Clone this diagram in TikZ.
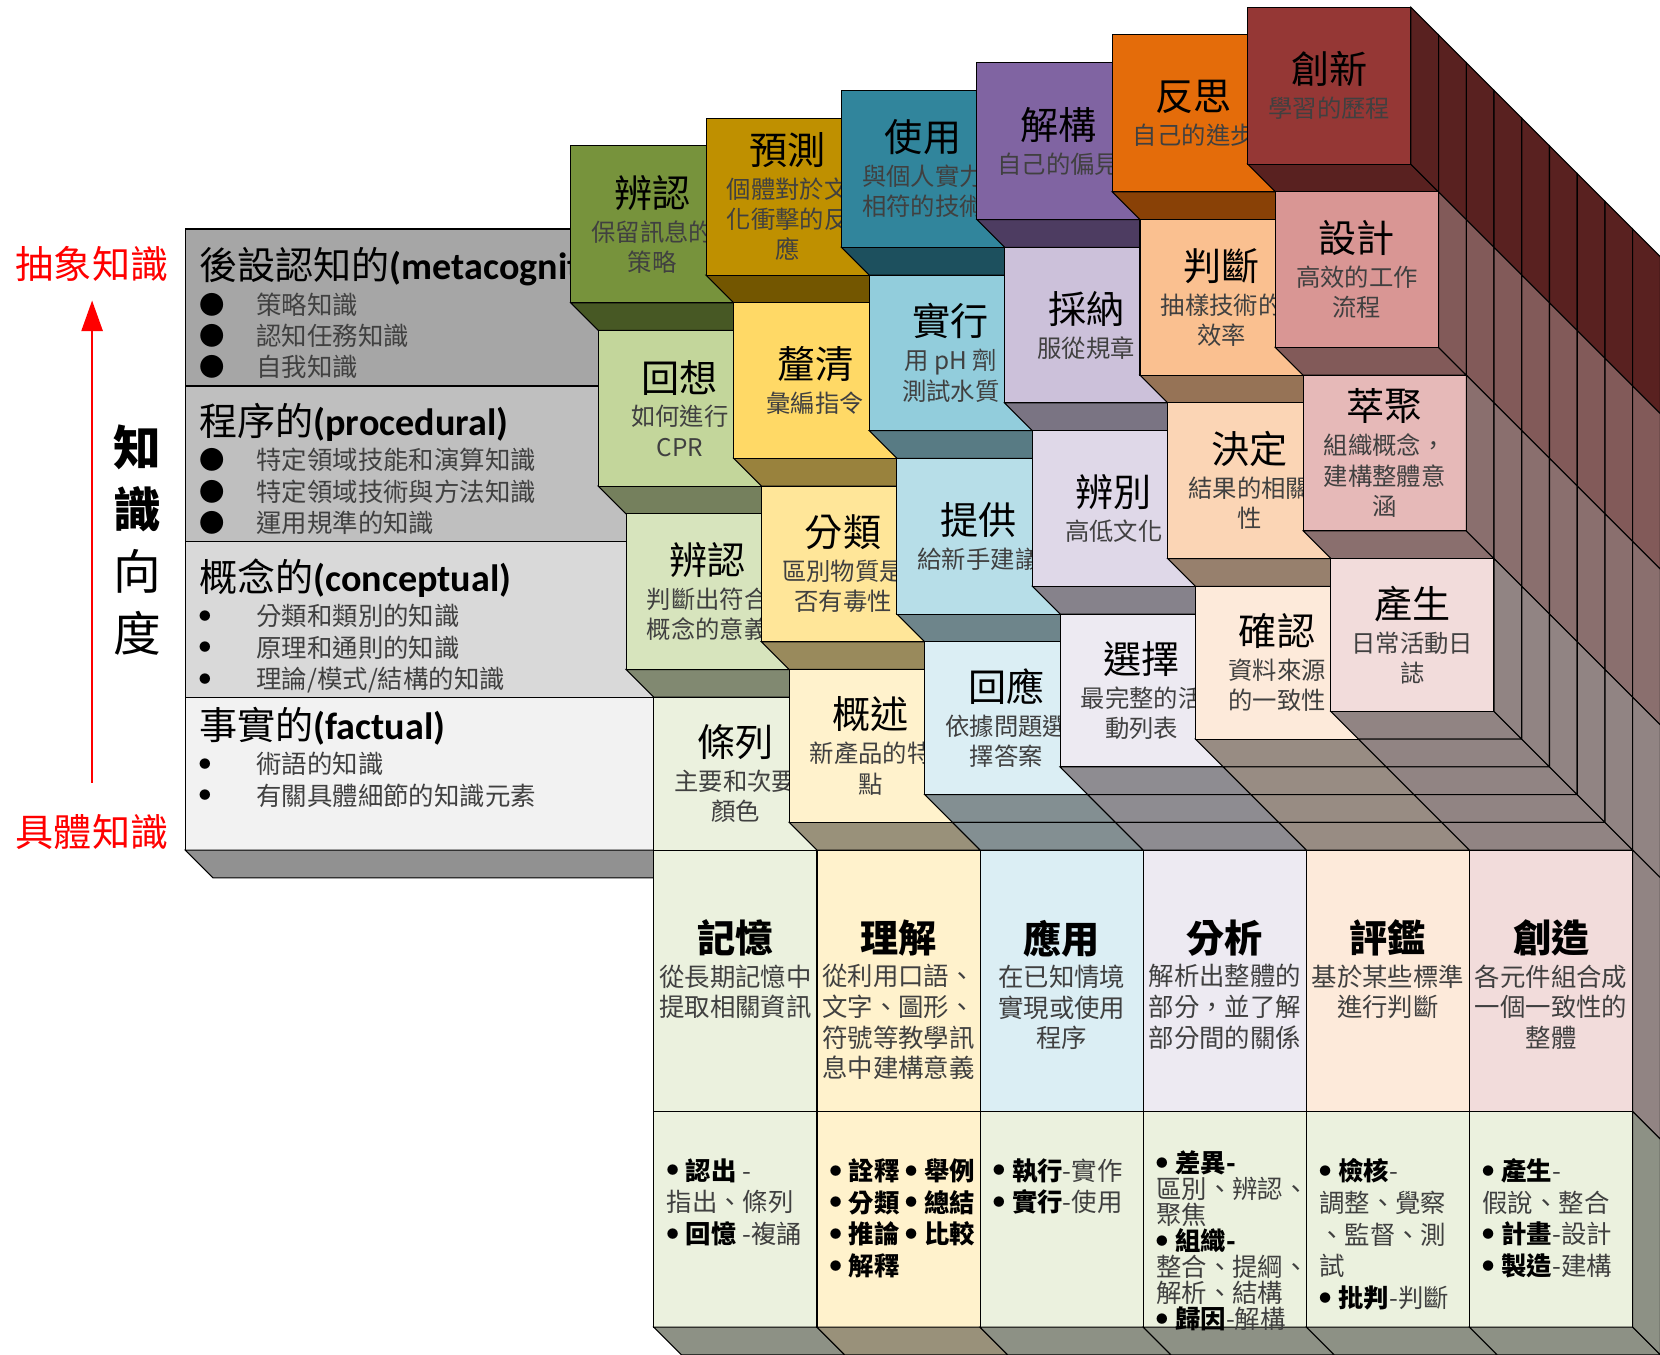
\documentclass[tikz,border=0pt]{standalone}
\usepackage{fontspec}
\setmainfont{Noto Sans CJK TC}
\newfontfamily\calibrish{Carlito}
\usetikzlibrary{arrows.meta}

% colours of the six columns (A metacognitive ... D factual, E/F front block)
\definecolor{remA}{HTML}{77933C}\definecolor{remB}{HTML}{C3D69B}\definecolor{remC}{HTML}{D7E4BD}\definecolor{remD}{HTML}{EBF1DE}
\definecolor{undA}{HTML}{BF9000}\definecolor{undB}{HTML}{FFD966}\definecolor{undC}{HTML}{FFE699}\definecolor{undD}{HTML}{FFF2CC}
\definecolor{appA}{HTML}{31859C}\definecolor{appB}{HTML}{92CDDC}\definecolor{appC}{HTML}{B7DEE8}\definecolor{appD}{HTML}{DBEEF4}
\definecolor{anaA}{HTML}{8064A2}\definecolor{anaB}{HTML}{CCC1DA}\definecolor{anaC}{HTML}{DFD8E8}\definecolor{anaD}{HTML}{EDEAF2}
\definecolor{evaA}{HTML}{E46C0A}\definecolor{evaB}{HTML}{FAC090}\definecolor{evaC}{HTML}{FBD5B5}\definecolor{evaD}{HTML}{FDEADA}
\definecolor{creA}{HTML}{953735}\definecolor{creB}{HTML}{D99694}\definecolor{creC}{HTML}{E6B9B8}\definecolor{creD}{HTML}{F2DCDB}
\definecolor{keyF}{HTML}{EBF1DE}
\definecolor{metaL}{HTML}{A6A6A6}\definecolor{procL}{HTML}{BFBFBF}
\definecolor{concL}{HTML}{D9D9D9}\definecolor{factL}{HTML}{F2F2F2}

% geometry of the blocks (pt, y downwards)
\def\W{154.1}
\def\D{26.2}
\def\XO{539}
\def\yf{724.4}
\def\levels{{137.7,286,433,580,724.4,971.4,1175}}

\newcommand{\cubetitle}[1]{{\color{black}\fontsize{36}{40}\selectfont #1}}
\newcommand{\basetitle}[1]{{\color{black}\bfseries\fontsize{36}{40}\selectfont #1}}
\newcommand{\labeltitle}[2]{{\color{black}\fontsize{36}{40}\selectfont #1{\calibrish\bfseries #2}}}
\newcommand{\smalldot}{\raisebox{4.9pt}{\fontsize{11}{11}\selectfont ●}}
\newcommand{\key}[1]{{\color{black}\smalldot\hspace{7pt}\bfseries #1}}
\newcommand{\bigdot}[1]{\makebox[54pt][l]{\color{black}#1}}

\tikzset{
  edge/.style={draw=black, line width=1pt},
  cubetext/.style={align=center, inner sep=0pt, text=black!75, font=\fontsize{23}{28.5}\selectfont},
  basetext/.style={align=center, inner sep=0pt, anchor=north, text=black!75, font=\fontsize{24}{29}\selectfont},
  keytext/.style={align=left, inner sep=0pt, anchor=north west, text=black!75},
  labeltext/.style={align=left, inner sep=0pt, anchor=north west, text=black!75, font=\fontsize{24}{29.5}\selectfont},
  redlabel/.style={inner sep=0pt, text=red, font=\fontsize{36}{40}\selectfont},
  axistext/.style={inner sep=0pt, align=center, font=\fontsize{45}{58.5}\selectfont},
  axisarrow/.style={red, line width=2.2pt, -{Triangle[length=29pt,width=20pt]}, shorten <=30pt, shorten >=18pt}
}

% one block of the staircase: column, row, colour, name, title, text
\newcommand{\stepcube}[6]{%
  \pgfmathtruncatemacro{\cubeB}{#2-#1}%
  \pgfmathtruncatemacro{\cubeR}{#2+1}%
  \pgfmathsetmacro{\cubeX}{\XO+#1*\W+\cubeB*\D}%
  \pgfmathsetmacro{\cubeY}{\levels[#2]+\cubeB*\D}%
  \pgfmathsetmacro{\cubeYb}{\levels[\cubeR]+\cubeB*\D}%
  \ifnum#2<3
    \draw[edge, fill=#3!60!black] (\cubeX,\cubeYb) -- ++(\W,0) -- ++(\D,\D) -- ++(-\W,0) -- cycle;
  \else\ifnum#1>0
    \foreach \k in {\cubeB,...,2}
      \draw[edge, fill=#3!60!black] ({\XO+#1*\W+\k*\D},{\yf+\k*\D}) -- ++(\W,0) -- ++(\D,\D) -- ++(-\W,0) -- cycle;
  \fi\fi
  \draw[edge, fill=#3] (\cubeX,\cubeY) rectangle ({\cubeX+\W},\cubeYb);
  \node[cubetext] (#4) at ({\cubeX+\W/2},{(\cubeY+\cubeYb)/2}) {\cubetitle{#5}\\[3.5pt]#6};
}

% right side of the last column: level, first depth, colour
\newcommand{\sidewall}[3]{%
  \pgfmathtruncatemacro{\wallR}{#1+1}%
  \pgfmathsetmacro{\wallX}{\XO+6*\W}%
  \pgfmathsetmacro{\wallYa}{\levels[#1]}%
  \pgfmathsetmacro{\wallYb}{\levels[\wallR]}%
  \foreach \k in {#2,...,3}
    \draw[edge, fill=#3!60!black] ({\wallX+\k*\D},{\wallYa+\k*\D}) -- ++(\D,\D) -- ++(0,{\wallYb-\wallYa}) -- ++(-\D,-\D) -- cycle;
}

% front block: column, colour, key colour, name, title, text, keys, key spacing, key top
\newcommand{\basecube}[9]{%
  \pgfmathsetmacro{\baseX}{\XO+#1*\W+3*\D}%
  \draw[edge, fill=#2] (\baseX,803) rectangle ({\baseX+\W},1050);
  \draw[edge, fill=#3] (\baseX,1050) rectangle ({\baseX+\W},1253.6);
  \draw[edge, fill=#3!60!black] (\baseX,1253.6) -- ++(\W,0) -- ++(\D,\D) -- ++(-\W,0) -- cycle;
  \node[basetext] (#4) at ({\baseX+\W/2},868.8) {\basetitle{#5}\\[2.4pt]#6};
  \node[keytext, font=\fontsize{24}{#8}\selectfont] (#4-keys) at ({\baseX+12},#9) {#7};
}

\begin{document}
\begin{tikzpicture}[x=1pt, y=-1pt]
    % Frame of the picture
    \useasboundingbox (0,0) rectangle (1568,1279);
    \clip (0,0) rectangle (1568,1279);

    % Knowledge axis
    \node[redlabel] (abstract) at (87,249) {抽象知識};
    \node[redlabel] (concrete) at (87,786) {具體知識};
    \draw[axisarrow] (concrete.north) -- (abstract.south);
    \node[axistext] (axis) at (130,510.5) {{\bfseries 知}\\{\bfseries 識}\\向\\度};

    % Knowledge rows, the blocks cover their right ends
    \draw[edge, fill=metaL] (175,216.3) rectangle (565.2,364.6);
    \draw[edge, fill=procL] (175,364.6) rectangle (591.4,511.6);
    \draw[edge, fill=concL] (175,511.6) rectangle (617.6,658.6);
    \draw[edge, fill=factL] (175,658.6) rectangle (617.6,803);
    \draw[edge, fill=factL!60!black] (175,803) -- (617.6,803) -- (643.8,829.2) -- (201.2,829.2) -- cycle;

    \begin{scope}
      \clip (175,216.3) rectangle (539,364.6);
      \node[labeltext] (metalabel) at (188,233.7) {\labeltitle{後設認知的}{(metacognitive)}\\[3pt]
        \bigdot{●}策略知識\\\bigdot{●}認知任務知識\\\bigdot{●}自我知識};
    \end{scope}
    \node[labeltext] (proclabel) at (188,380.7) {\labeltitle{程序的}{(procedural)}\\[3pt]
      \bigdot{●}特定領域技能和演算知識\\\bigdot{●}特定領域技術與方法知識\\\bigdot{●}運用規準的知識};
    \node[labeltext] (conclabel) at (188,527.7) {\labeltitle{概念的}{(conceptual)}\\[3pt]
      \bigdot{\smalldot}分類和類別的知識\\\bigdot{\smalldot}原理和通則的知識\\\bigdot{\smalldot}理論/模式/結構的知識};
    \node[labeltext] (factlabel) at (188,667.7) {\labeltitle{事實的}{(factual)}\\[3pt]
      \bigdot{\smalldot}術語的知識\\\bigdot{\smalldot}有關具體細節的知識元素};

    % Metacognitive blocks
    \stepcube{0}{0}{remA}{meta-rem}{辨認}{保留訊息的\\策略}
    \stepcube{1}{0}{undA}{meta-und}{預測}{個體對於文\\化衝擊的反\\應}
    \stepcube{2}{0}{appA}{meta-app}{使用}{與個人實力\\相符的技術}
    \stepcube{3}{0}{anaA}{meta-ana}{解構}{自己的偏見}
    \stepcube{4}{0}{evaA}{meta-eva}{反思}{自己的進步}
    \stepcube{5}{0}{creA}{meta-cre}{創新}{學習的歷程}
    \sidewall{0}{-5}{creA}

    % Procedural blocks
    \stepcube{0}{1}{remB}{proc-rem}{回想}{如何進行\\CPR}
    \stepcube{1}{1}{undB}{proc-und}{釐清}{彙編指令}
    \stepcube{2}{1}{appB}{proc-app}{實行}{用 pH 劑\\測試水質}
    \stepcube{3}{1}{anaB}{proc-ana}{採納}{服從規章}
    \stepcube{4}{1}{evaB}{proc-eva}{判斷}{抽樣技術的\\效率}
    \stepcube{5}{1}{creB}{proc-cre}{設計}{高效的工作\\流程}
    \sidewall{1}{-4}{creB}

    % Conceptual blocks
    \stepcube{0}{2}{remC}{conc-rem}{辨認}{判斷出符合\\概念的意義}
    \stepcube{1}{2}{undC}{conc-und}{分類}{區別物質是\\否有毒性}
    \stepcube{2}{2}{appC}{conc-app}{提供}{給新手建議}
    \stepcube{3}{2}{anaC}{conc-ana}{辨別}{高低文化}
    \stepcube{4}{2}{evaC}{conc-eva}{決定}{結果的相關\\性}
    \stepcube{5}{2}{creC}{conc-cre}{萃聚}{組織概念，\\建構整體意\\涵}
    \sidewall{2}{-3}{creC}

    % Factual blocks
    \stepcube{0}{3}{remD}{fact-rem}{條列}{主要和次要\\顏色}
    \stepcube{1}{3}{undD}{fact-und}{概述}{新產品的特\\點}
    \stepcube{2}{3}{appD}{fact-app}{回應}{依據問題選\\擇答案}
    \stepcube{3}{3}{anaD}{fact-ana}{選擇}{最完整的活\\動列表}
    \stepcube{4}{3}{evaD}{fact-eva}{確認}{資料來源\\的一致性}
    \stepcube{5}{3}{creD}{fact-cre}{產生}{日常活動日\\誌}
    \sidewall{3}{-2}{creD}

    % Cognitive process dimension
    \basecube{0}{remD}{keyF}{remember}{記憶}{從長期記憶中\\提取相關資訊}
      {\key{認出} -\\指出、條列\\\key{回憶} -複誦}{30}{1094}
    \basecube{1}{undD}{undD}{understand}{理解}{從利用口語、\\文字、圖形、\\符號等教學訊\\息中建構意義}
      {\key{詮釋} \key{舉例}\\\key{分類} \key{總結}\\\key{推論} \key{比較}\\\key{解釋}}{30}{1094}
    \basecube{2}{appD}{keyF}{apply}{應用}{在已知情境\\實現或使用\\程序}
      {\key{執行}-實作\\\key{實行}-使用}{30}{1094}
    \basecube{3}{anaD}{keyF}{analyze}{分析}{解析出整體的\\部分，並了解\\部分間的關係}
      {\key{差異-}\\區別、辨認、\\聚焦\\\key{組織-}\\整合、提綱、\\解析、結構\\\key{歸因}-解構}{24.5}{1087}
    \basecube{4}{evaD}{keyF}{evaluate}{評鑑}{基於某些標準\\進行判斷}
      {\key{檢核}-\\調整、覺察\\、監督、測\\試\\\key{批判}-判斷}{30}{1094}
    \basecube{5}{creD}{keyF}{create}{創造}{各元件組合成\\一個一致性的\\整體}
      {\key{產生}-\\假說、整合\\\key{計畫}-設計\\\key{製造}-建構}{30}{1094}
    \sidewall{4}{3}{creD}
    \sidewall{5}{3}{keyF}
\end{tikzpicture}
\end{document}
